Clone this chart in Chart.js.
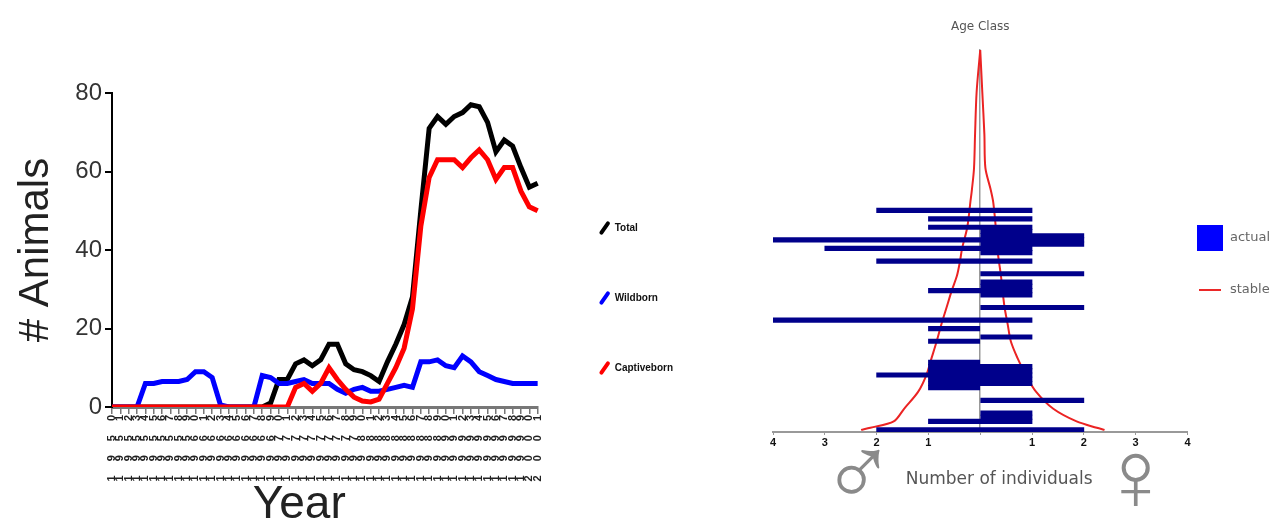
<!DOCTYPE html>
<html>
<head>
<meta charset="utf-8">
<title>Census and age structure</title>
<script src="https://cdn.jsdelivr.net/npm/chart.js@4.4.0/dist/chart.umd.min.js"></script>
<style>
    html, body { margin: 0; padding: 0; background: #fff; }
    body { width: 1287px; height: 525px; position: relative; overflow: hidden; }
    #census-wrap { position: absolute; left: 0; top: 0; width: 700px; height: 525px; }
    #pyramid-wrap { position: absolute; left: 720px; top: 0; width: 567px; height: 525px; }
</style>
</head>
<body>
<div id="census-wrap"><canvas id="census-chart"></canvas></div>
<div id="pyramid-wrap"><canvas id="pyramid-chart"></canvas></div>
<script>
// Census data (left chart)
const censusYears = [
    '1950', '1951', '1952', '1953', '1954', '1955', '1956', '1957', '1958', '1959',
    '1960', '1961', '1962', '1963', '1964', '1965', '1966', '1967', '1968', '1969',
    '1970', '1971', '1972', '1973', '1974', '1975', '1976', '1977', '1978', '1979',
    '1980', '1981', '1982', '1983', '1984', '1985', '1986', '1987', '1988', '1989',
    '1990', '1991', '1992', '1993', '1994', '1995', '1996', '1997', '1998', '1999',
    '2000', '2001'
];
const totalAnimals = [
    0, 0, 0, 0, 0, 0, 0, 0, 0, 0,
    0, 0, 0, 0, 0, 0, 0, 0, 0, 1,
    7, 7, 11, 12, 10.5, 12, 16, 16, 11, 9.5,
    9, 8, 6.5, 11.5, 16, 21, 28, 50, 71, 74,
    72, 74, 75, 77, 76.5, 72.5, 65, 68, 66.5, 61,
    56, 57
];
const wildbornAnimals = [
    0, 0, 0, 0, 6, 6, 6.5, 6.5, 6.5, 7,
    9, 9, 7.5, 0.5, 0, 0, 0, 0, 8, 7.5,
    6, 6, 6.5, 7, 6, 6, 6, 4.5, 3.5, 4.5,
    5, 4, 4, 4.5, 5, 5.5, 5, 11.5, 11.5, 12,
    10.5, 10, 13, 11.5, 9, 8, 7, 6.5, 6, 6,
    6, 6
];
const captivebornAnimals = [
    0, 0, 0, 0, 0, 0, 0, 0, 0, 0,
    0, 0, 0, 0, 0, 0, 0, 0, 0, 0,
    0, 0, 5, 6, 4, 6, 10, 7, 4.5, 2.5,
    1.5, 1.3, 2, 6, 10, 15, 25, 46, 58.5, 63,
    63, 63, 61, 63.5, 65.5, 63, 58, 61, 61, 55,
    51, 50
];

// Age structure data (right chart)
const ageClasses  = [0, 2, 3, 4, 7, 10, 11, 12, 13, 14, 15, 16, 21, 22, 24, 26, 29, 32, 33, 34, 35, 37, 40, 42, 43, 44, 45, 46, 47, 48, 50, 52];
const maleCounts  = [2, 1, 0, 0, 0, 1,  1,  1,  2,  1,  1,  1,  1,  0,  1,  4,  0,  0,  1,  0,  0,  0,  2,  0,  3,  0,  4,  0,  0,  1,  1,  2];
const femaleCounts= [2, 1, 1, 1, 2, 0,  1,  1,  1,  1,  1,  0,  0,  1,  0,  1,  2,  1,  1,  1,  1,  2,  1,  1,  1,  2,  2,  2,  1,  1,  1,  1];

const stableAges   = [0, 0.5, 2, 5, 9, 13, 17, 21, 25, 29, 33, 36.5, 40, 43, 48, 54, 57, 62, 70, 80, 90];
const stableMale   = [2.3, 2.12, 1.67, 1.47, 1.2, 1.04, 0.94, 0.84, 0.75, 0.65, 0.55, 0.45, 0.39, 0.35, 0.25, 0.19, 0.16, 0.12, 0.1, 0.07, 0];
const stableFemale = [2.4, 2.25, 1.86, 1.41, 1.08, 0.88, 0.72, 0.59, 0.53, 0.47, 0.43, 0.4, 0.36, 0.33, 0.3, 0.25, 0.2, 0.1, 0.08, 0.04, 0];

// Spread the digits of the rotated year labels, like the original print
const spacedYearLabels = {
    id: 'spacedYearLabels',
    afterLayout(chart) {
        const scale = chart.scales.x;
        if (scale._spaced) return;
        const drawLabels = scale.drawLabels.bind(scale);
        scale.drawLabels = function (area) {
            this.ctx.save();
            this.ctx.letterSpacing = '14px';
            drawLabels(area);
            this.ctx.restore();
        };
        scale._spaced = true;
    }
};

// Male / female symbols under the pyramid axis
const sexSymbols = {
    id: 'sexSymbols',
    afterDraw(chart) {
        const { ctx, scales: { x } } = chart;
        ctx.save();
        ctx.font = '100px "Liberation Sans"';
        ctx.fillStyle = '#8a8a8a';
        ctx.textAlign = 'center';
        ctx.textBaseline = 'middle';
        ctx.fillText('\u2642', x.getPixelForValue(-2.35), x.top + 46);
        ctx.fillText('\u2640', x.getPixelForValue(3.0), x.top + 50);
        ctx.restore();
    }
};

function makeSwatch(w, h, color) {
    const c = document.createElement('canvas');
    c.width = w;
    c.height = h;
    const g = c.getContext('2d');
    g.fillStyle = color;
    g.fillRect(0, 0, w, h);
    return c;
}

// Left chart
function createCensusChart() {
    const ctx = document.getElementById('census-chart');
    const chart = new Chart(ctx, {
        type: 'line',
        data: {
            labels: censusYears,
            datasets: [
                { label: 'Total', data: totalAnimals, borderColor: '#000000', order: 3 },
                { label: 'Wildborn', data: wildbornAnimals, borderColor: '#0000ff', order: 2 },
                { label: 'Captiveborn', data: captivebornAnimals, borderColor: '#ff0000', order: 1 }
            ]
        },
        options: {
            responsive: true,
            maintainAspectRatio: false,
            animation: false,
            events: [],
            layout: { padding: { top: 93, right: 17, bottom: 0, left: 0 } },
            elements: {
                line: { borderWidth: 5, tension: 0 },
                point: { radius: 0 }
            },
            scales: {
                x: {
                    offset: false,
                    grid: { display: true, drawOnChartArea: false, tickLength: 7, color: '#777', lineWidth: 1.5 },
                    border: { color: '#777', width: 3 },
                    ticks: {
                        autoSkip: false, minRotation: 90, maxRotation: 90, padding: -13,
                        color: '#222',
                        font: { family: 'Liberation Sans, Arial, sans-serif', size: 11, weight: 'bold' }
                    },
                    title: {
                        display: true, text: 'Year\u00a0\u00a0\u00a0\u00a0', color: '#222',
                        font: { family: 'Liberation Sans, Arial, sans-serif', size: 46, lineHeight: 0.85 },
                        padding: { top: 0, bottom: 0 }
                    },
                    afterFit: scale => { scale.height = 118; }
                },
                y: {
                    min: 0,
                    max: 80,
                    ticks: {
                        stepSize: 20, padding: 3, color: '#333',
                        font: { family: 'Liberation Sans, Arial, sans-serif', size: 24 }
                    },
                    grid: { drawOnChartArea: false, tickLength: 7, color: '#000', lineWidth: 2 },
                    border: { color: '#000', width: 2 },
                    title: {
                        display: true, text: '# Animals', color: '#222',
                        font: { family: 'Liberation Sans, Arial, sans-serif', size: 42, lineHeight: 1 },
                        padding: { top: 15, bottom: 0 }
                    },
                    afterFit: scale => { scale.width = 112; }
                }
            },
            plugins: {
                tooltip: { enabled: false },
                legend: {
                    position: 'right',
                    align: 'start',
                    title: { display: true, text: ' ', font: { size: 10, lineHeight: 1 }, padding: { top: 58, bottom: 0 } },
                    labels: {
                        usePointStyle: true,
                        boxWidth: 10,
                        boxHeight: 8,
                        padding: 62,
                        color: '#111',
                        font: { family: 'Liberation Sans, Arial, sans-serif', size: 10, weight: 'bold', lineHeight: 0.8 },
                        generateLabels: c => c.data.datasets.map((ds, i) => ({
                            text: [ds.label],
                            fillStyle: ds.borderColor,
                            strokeStyle: ds.borderColor,
                            fontColor: '#111',
                            lineWidth: 4,
                            lineCap: 'round',
                            pointStyle: 'line',
                            rotation: -55,
                            datasetIndex: i
                        }))
                    }
                }
            }
        },
        plugins: [spacedYearLabels]
    });
    chart.draw();
}

// Right chart
function createPyramidChart() {
    const ctx = document.getElementById('pyramid-chart');

    const actualBars = ageClasses.map((age, i) => ({ y: age, x: [-maleCounts[i], femaleCounts[i]] }));
    const stableCurve = stableAges.map((age, i) => ({ y: age, x: -stableMale[i] }))
        .concat(stableAges.map((age, i) => ({ y: age, x: stableFemale[i] })).reverse());

    const actualSwatch = makeSwatch(26, 26, '#0000ff');
    const stableSwatch = makeSwatch(22, 2, 'rgb(235, 40, 40)');

    new Chart(ctx, {
        type: 'bar',
        data: {
            datasets: [
                {
                    label: 'actual',
                    data: actualBars,
                    backgroundColor: '#00008b',
                    barThickness: 4.5,
                    order: 1
                },
                {
                    type: 'line',
                    label: 'stable',
                    data: stableCurve,
                    borderColor: 'rgb(235, 35, 35)',
                    borderWidth: 2,
                    pointRadius: 0,
                    tension: 0.3,
                    order: 2
                }
            ]
        },
        options: {
            indexAxis: 'y',
            responsive: true,
            maintainAspectRatio: false,
            animation: false,
            events: [],
            layout: { padding: { top: 10, right: 7, bottom: 0, left: 53 } },
            scales: {
                x: {
                    type: 'linear',
                    min: -4,
                    max: 4,
                    grid: { drawOnChartArea: false, tickLength: 3, color: '#999' },
                    border: { color: '#999', width: 2 },
                    ticks: {
                        stepSize: 1, padding: 1, color: '#111',
                        font: { family: 'Liberation Sans, Arial, sans-serif', size: 11, weight: 'bold' },
                        callback: v => (v === 0 ? '' : Math.abs(v))
                    },
                    title: {
                        display: true,
                        text: '\u00a0\u00a0\u00a0\u00a0\u00a0\u00a0\u00a0Number of individuals',
                        color: '#555',
                        font: { family: 'DejaVu Sans', size: 17, lineHeight: 1.2 },
                        padding: { top: 0, bottom: 35 }
                    },
                    afterFit: scale => { scale.height = 93; }
                },
                y: {
                    type: 'linear',
                    min: -0.5,
                    max: 90,
                    offset: false,
                    position: { x: 0 },
                    ticks: { display: false },
                    grid: { drawOnChartArea: false, drawTicks: false, offset: false },
                    border: { color: '#999', width: 1.5 }
                }
            },
            plugins: {
                tooltip: { enabled: false },
                title: {
                    display: true,
                    text: 'Age Class',
                    fullSize: false,
                    color: '#555',
                    font: { family: 'DejaVu Sans', size: 12, weight: 'normal' },
                    padding: { top: 10, bottom: 15.6 }
                },
                legend: {
                    position: 'right',
                    align: 'start',
                    title: { display: true, text: ' ', font: { size: 10, lineHeight: 1 }, padding: { top: 201, bottom: 0 } },
                    labels: {
                        usePointStyle: true,
                        pointStyleWidth: 26,
                        padding: 10,
                        color: '#666',
                        font: { family: 'DejaVu Sans', size: 13, lineHeight: 42 / 13 },
                        generateLabels: () => [
                            { text: ['actual'], pointStyle: actualSwatch, fillStyle: '#0000ff', strokeStyle: '#0000ff', lineWidth: 0, fontColor: '#666', datasetIndex: 0 },
                            { text: ['stable'], pointStyle: stableSwatch, fillStyle: 'red', strokeStyle: 'red', lineWidth: 0, fontColor: '#666', datasetIndex: 1 }
                        ]
                    }
                }
            }
        },
        plugins: [sexSymbols]
    });
}

document.addEventListener('DOMContentLoaded', () => {
    createCensusChart();
    createPyramidChart();
});
</script>
</body>
</html>
